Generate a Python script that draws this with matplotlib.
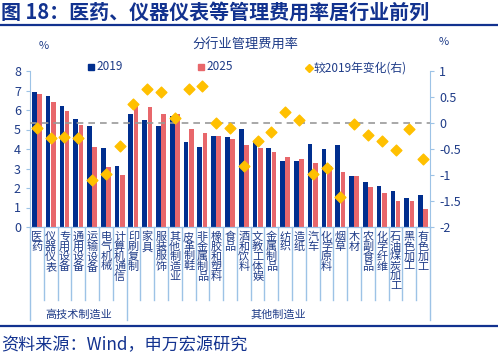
import matplotlib
matplotlib.use("Agg")
import matplotlib.pyplot as plt
import numpy as np
from matplotlib.lines import Line2D
import matplotlib.transforms as mtransforms

plt.rcParams['font.family'] = ['Noto Sans CJK SC', 'DejaVu Sans']

categories = ["医药", "仪器仪表", "专用设备", "通用设备", "运输设备", "电气机械", "计算机通信",
              "印刷复制", "家具", "服装服饰", "其他制造业", "皮革制鞋", "非金属制品", "橡胶和塑料",
              "食品", "酒和饮料", "文教工体娱", "金属制品", "纺织", "造纸", "汽车", "化学原料",
              "烟草", "木材", "农副食品", "化学纤维", "石油煤炭加工", "黑色加工", "有色加工"]
v2019 = [6.92, 6.70, 6.19, 5.56, 5.20, 4.04, 3.13, 5.81, 5.49, 5.20, 5.69, 4.34, 4.10, 4.65,
         4.60, 5.01, 4.37, 4.04, 3.37, 3.40, 4.24, 4.00, 4.22, 2.62, 2.29, 2.09, 1.85, 1.47, 1.62]
v2025 = [6.84, 6.43, 5.95, 5.25, 4.09, 3.06, 2.69, 6.19, 6.14, 5.79, 5.78, 5.01, 4.80, 4.65,
         4.50, 4.19, 4.07, 3.85, 3.57, 3.47, 3.26, 3.13, 2.80, 2.62, 2.05, 1.73, 1.35, 1.35, 0.92]
change = [-0.10, -0.28, -0.26, -0.28, -1.10, -0.98, -0.45, 0.36, 0.65, 0.60, 0.10, 0.66, 0.71,
          0.00, -0.10, -0.83, -0.34, -0.18, 0.22, 0.06, -0.98, -0.86, -1.42, -0.01, -0.23,
          -0.35, -0.51, -0.12, -0.70]
groups = [("高技术制造业", 0, 6), ("其他制造业", 7, 28)]
left_ticks = [0, 1, 2, 3, 4, 5, 6, 7, 8]
right_ticks = [1, 0.5, 0, -0.5, -1, -1.5, -2]

NAVY = "#002E8E"
SALMON = "#E8676B"
GOLD = "#FFC000"
TXT = "#1F3C88"
LB = "#9DC3E6"

W, H = 498, 359
fig = plt.figure(figsize=(W / 100, H / 100), dpi=100)

def px(x0, y0, x1, y1):
    return [x0 / W, 1 - y1 / H, (x1 - x0) / W, (y1 - y0) / H]

ax = fig.add_axes(px(30, 71, 430, 227))
ax2 = ax.twinx()

x = np.arange(len(categories))
bw = 0.34
ax.bar(x - bw / 2 - 0.02, v2019, width=bw, color=NAVY, label="2019", zorder=2)
ax.bar(x + bw / 2 + 0.02, v2025, width=bw, color=SALMON, label="2025", zorder=2)
ax.set_xlim(-0.5, len(categories) - 0.5)
ax.set_ylim(0, 8)
ax.set_yticks(left_ticks)
ax.set_xticks([])

ax2.set_ylim(-2, 1)
ax2.set_yticks(right_ticks)
ax2.set_yticklabels([f"{t:g}" for t in right_ticks])
ax2.axhline(0, color="#999999", lw=1.2, ls=(0, (4, 3)), zorder=1)
ax2.scatter(x, change, marker="D", s=30, color=GOLD, zorder=4, label="较2019年变化(右)")

for a in (ax, ax2):
    a.spines["top"].set_visible(False)
    a.spines["left"].set_color(LB)
    a.spines["right"].set_color(LB)
    a.spines["bottom"].set_color(LB)
    a.tick_params(axis="y", colors=LB, labelcolor=TXT, labelsize=9, length=3, width=0.8)
ax2.spines["left"].set_visible(False)
ax.spines["right"].set_visible(False)

# category separators and labels
trans = mtransforms.blended_transform_factory(ax.transData, ax.transAxes)
sep_short = (227 - 300) / 156
sep_long = (227 - 320) / 156
group_edges = {-0.5, 6.5, len(categories) - 0.5}
for i in range(len(categories) + 1):
    xe = i - 0.5
    yb = sep_long if xe in group_edges else sep_short
    ax.add_line(Line2D([xe, xe], [0, yb], transform=trans, color=LB, lw=1.0, clip_on=False))
for i, c in enumerate(categories):
    ax.text(i, -0.03, "\n".join(c), transform=trans, ha="center", va="top",
            fontsize=8, color=TXT, linespacing=0.98)
for name, a0, a1 in groups:
    ax.text((a0 + a1) / 2, (227 - 315) / 156, name, transform=trans, ha="center", va="center",
            fontsize=8, color=TXT)

# legend entries
def legend_mark(xp, yp, marker, color, size):
    fig.add_artist(Line2D([xp / W], [1 - yp / H], transform=fig.transFigure, marker=marker,
                          markersize=size, color=color, linestyle="none"))

legend_mark(91, 67, "s", NAVY, 5)
fig.text(96 / W, 1 - 67 / H, "2019", color=TXT, fontsize=8.5, va="center", ha="left")
legend_mark(201, 67, "s", SALMON, 5)
fig.text(206 / W, 1 - 67 / H, "2025", color=TXT, fontsize=8.5, va="center", ha="left")
legend_mark(309, 68, "D", GOLD, 4.5)
fig.text(314 / W, 1 - 68 / H, "较2019年变化(右)", color=TXT, fontsize=8.5, va="center", ha="left")

# titles
fig.text(245 / W, 1 - 45 / H, "分行业管理费用率", color=TXT, fontsize=9.5, ha="center", va="center")
fig.text(44 / W, 1 - 46 / H, "%", color=TXT, fontsize=8, ha="center", va="center")
fig.text(444 / W, 1 - 42 / H, "%", color=TXT, fontsize=8, ha="center", va="center")

fig.text(1 / W, 1 - 12 / H, "图 18：医药、仪器仪表等管理费用率居行业前列", color="#12328F",
         fontsize=14.4, fontweight="bold", ha="left", va="center")
fig.add_artist(Line2D([0, 1], [1 - 24.5 / H, 1 - 24.5 / H], transform=fig.transFigure,
                      color="#12328F", lw=1.6))
fig.add_artist(Line2D([0, 1], [1 - 326 / H, 1 - 326 / H], transform=fig.transFigure,
                      color="#12328F", lw=1.6))
fig.text(1 / W, 1 - 345 / H, "资料来源：Wind，申万宏源研究", color="#12328F",
         fontsize=12.3, ha="left", va="center")

fig.savefig("out.png", dpi=100)
